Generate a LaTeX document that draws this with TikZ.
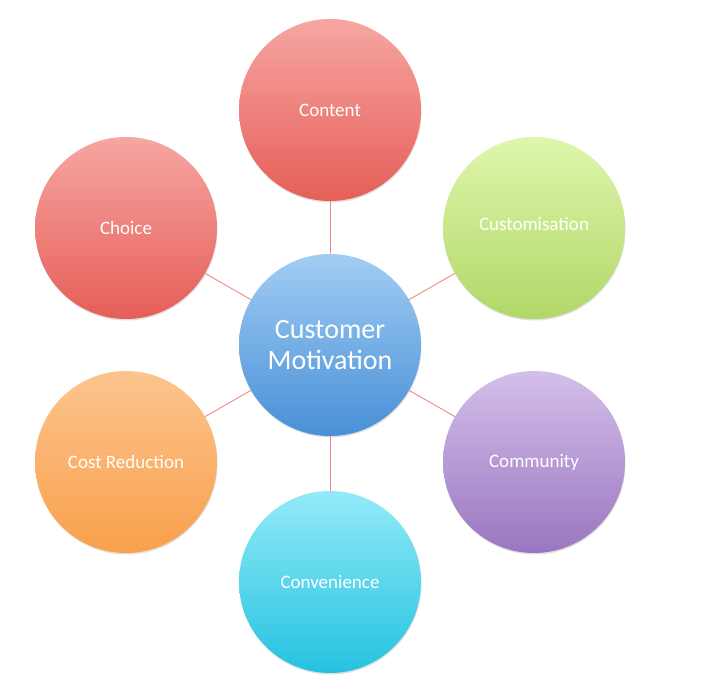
\documentclass[tikz,border=0pt]{standalone}
\usepackage{fontspec}
\setmainfont{Carlito}
\usetikzlibrary{positioning, shadows}

\definecolor{redtop}{HTML}{F6A6A2}
\definecolor{redbot}{HTML}{E65E58}
\definecolor{bluetop}{HTML}{A2CDF4}
\definecolor{bluebot}{HTML}{4890D6}
\definecolor{greentop}{HTML}{DFF6AC}
\definecolor{greenbot}{HTML}{B2D768}
\definecolor{purpletop}{HTML}{D4BFEA}
\definecolor{purplebot}{HTML}{9A76C0}
\definecolor{cyantop}{HTML}{94EAF9}
\definecolor{cyanbot}{HTML}{24C2E0}
\definecolor{orangetop}{HTML}{FCC48E}
\definecolor{orangebot}{HTML}{F9A04C}
\definecolor{spoke}{HTML}{EE8A82}

\begin{document}
\begin{tikzpicture}
    [
        node distance=117pt and 204pt, on grid,
        bubble/.style={circle, minimum size=182pt, inner sep=0pt, text=white,
            font=\fontsize{19}{22}\selectfont, shading=axis,
            drop shadow={opacity=0.25, shadow xshift=0.5pt, shadow yshift=-1.5pt}},
        red_bubble/.style={bubble, top color=redtop, bottom color=redbot},
        spoke_line/.style={draw=spoke, line width=0.9pt},
    ]
        \useasboundingbox (0,0) rectangle (719pt,695pt);
        \node[bubble, top color=bluetop, bottom color=bluebot, align=center,
            font=\fontsize{28}{31}\selectfont] (motivation) at (330pt,350pt) {Customer\\Motivation} ;
        \node[red_bubble] (content) [above = 235pt of motivation] {Content} ;
        \node[bubble, top color=greentop, bottom color=greenbot] (custom) [above right = of motivation] {\raisebox{9pt}{Customisation}} ;
        \node[bubble, top color=purpletop, bottom color=purplebot] (community) [below right = of motivation] {Community} ;
        \node[bubble, top color=cyantop, bottom color=cyanbot] (convenience) [below = 237pt of motivation] {Convenience} ;
        \node[bubble, top color=orangetop, bottom color=orangebot] (cost) [below left = of motivation] {Cost Reduction} ;
        \node[red_bubble] (choice) [above left = of motivation] {Choice} ;
        \draw[spoke_line] (motivation) -- (content) ;
        \draw[spoke_line] (motivation) -- (custom) ;
        \draw[spoke_line] (motivation) -- (community) ;
        \draw[spoke_line] (motivation) -- (convenience) ;
        \draw[spoke_line] (motivation) -- (cost) ;
        \draw[spoke_line] (motivation) -- (choice) ;
\end{tikzpicture}
\end{document}
